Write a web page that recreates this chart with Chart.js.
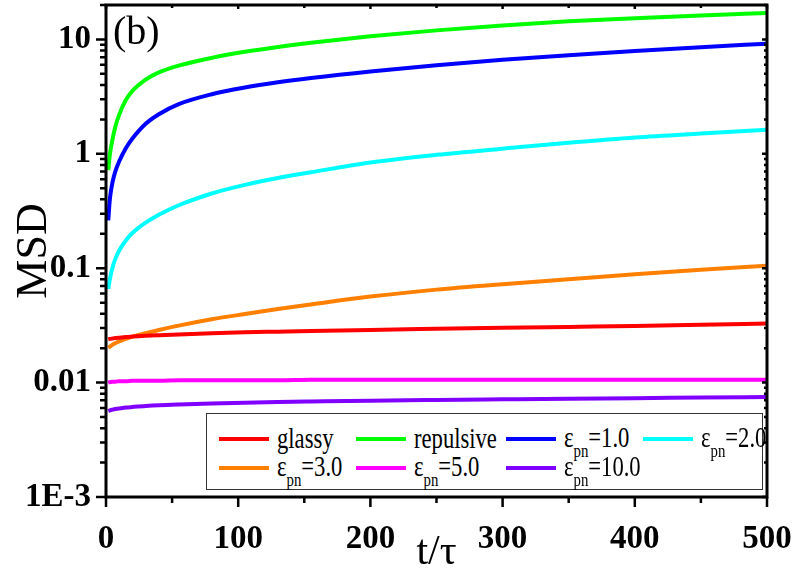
<!DOCTYPE html>
<html>
<head>
<meta charset="utf-8">
<script src="https://cdn.jsdelivr.net/npm/chart.js@4.4.0/dist/chart.umd.min.js"></script>
<style>
  body { margin: 0; background: #fff; }
  #wrap { position: relative; width: 794px; height: 579px; }
  #legend {
    position: absolute; left: 206px; top: 413px; width: 557px; height: 77px;
    box-sizing: border-box; border: 1px solid #333; background: #fff;
    display: grid; grid-template-columns: 137px 150px 137px 1fr; grid-template-rows: 29px 29px;
    padding: 10px 0 0 12px;
    font-family: "Liberation Serif"; font-size: 29px; color: #000;
  }
  .item { display: flex; align-items: center; line-height: 29px; white-space: nowrap; }
  .swatch { width: 50px; height: 4px; margin-right: 8px; flex: none; }
  .txt { display: inline-block; transform: scaleX(0.78); transform-origin: left center; }
  .txt sub { font-size: 19px; vertical-align: baseline; position: relative; top: 10px; }
</style>
</head>
<body>
<div id="wrap">
  <canvas id="chart"></canvas>
  <div id="legend"></div>
</div>
<script>
// time points (t/tau) shared by all curves
const times = [1.7, 3, 5, 7, 10, 15, 20, 30, 40, 55, 80, 105, 130, 155, 200, 250, 300, 350, 400, 450, 500];

const glassy    = [0.0239, 0.0241, 0.0243, 0.0245, 0.0247, 0.0250, 0.0253, 0.0257, 0.0260, 0.0264, 0.0270, 0.0275, 0.0279, 0.0283, 0.0289, 0.0295, 0.0301, 0.0307, 0.0313, 0.0320, 0.0328];
const repulsive = [0.72, 1.0, 1.35, 1.72, 2.2, 2.95, 3.55, 4.45, 5.15, 5.9, 6.9, 7.8, 8.6, 9.35, 10.65, 12.0, 13.25, 14.4, 15.35, 16.2, 17.0];
const eps1      = [0.262, 0.41, 0.57, 0.70, 0.86, 1.12, 1.36, 1.83, 2.22, 2.72, 3.32, 3.8, 4.22, 4.6, 5.25, 5.95, 6.63, 7.28, 7.92, 8.55, 9.18];
const eps2      = [0.066, 0.081, 0.102, 0.12, 0.143, 0.175, 0.203, 0.25, 0.293, 0.355, 0.45, 0.535, 0.615, 0.69, 0.84, 0.98, 1.11, 1.25, 1.39, 1.505, 1.62];
const eps3      = [0.0202, 0.0207, 0.0215, 0.0221, 0.0229, 0.0241, 0.0252, 0.0270, 0.0288, 0.0315, 0.0358, 0.0398, 0.0440, 0.0482, 0.0565, 0.0650, 0.0725, 0.0800, 0.0885, 0.0970, 0.1050];
const eps5      = [0.0100, 0.0101, 0.0102, 0.0102, 0.0103, 0.0103, 0.0104, 0.0104, 0.0104, 0.0105, 0.0105, 0.0105, 0.0105, 0.0106, 0.0106, 0.0106, 0.0106, 0.0106, 0.0106, 0.0106, 0.0106];
const eps10     = [0.00565, 0.00572, 0.00580, 0.00587, 0.00595, 0.00605, 0.00612, 0.00625, 0.00635, 0.00645, 0.00658, 0.00668, 0.00676, 0.00683, 0.00695, 0.00705, 0.00714, 0.00723, 0.00731, 0.00740, 0.00748];

const seriesLabels = ["glassy", "repulsive", "εpn=1.0", "εpn=2.0", "εpn=3.0", "εpn=5.0", "εpn=10.0"];

const xMajor = [0, 100, 200, 300, 400, 500];
const xMinor = [50, 150, 250, 350, 450];
const yTicks = [0.001, 0.01, 0.1, 1, 10];
const yTickLabels = ["1E-3", "0.01", "0.1", "1", "10"];
const panelTag = "(b)";

const serif = '"Liberation Serif", "Times New Roman", serif';
Chart.defaults.font.family = serif;
Chart.defaults.color = "#000";

function series(label, values, color) {
  return {
    label: label,
    data: times.map((t, i) => ({ x: t, y: values[i] })),
    borderColor: color,
    backgroundColor: color,
    borderWidth: 4,
    pointRadius: 0,
    cubicInterpolationMode: "monotone",
    fill: false
  };
}

// frame, tick marks and the panel tag
const frame = {
  id: "frame",
  afterDatasetsDraw(chart) {
    const { ctx, chartArea: a, scales: { x, y } } = chart;
    ctx.save();
    ctx.strokeStyle = "#000";
    ctx.lineWidth = 2.5;
    ctx.beginPath();
    xMajor.forEach(v => {
      const p = x.getPixelForValue(v);
      ctx.moveTo(p, a.bottom); ctx.lineTo(p, a.bottom + 10);
      ctx.moveTo(p, a.top); ctx.lineTo(p, a.top + 4);
    });
    xMinor.forEach(v => {
      const p = x.getPixelForValue(v);
      ctx.moveTo(p, a.bottom); ctx.lineTo(p, a.bottom + 6);
      ctx.moveTo(p, a.top); ctx.lineTo(p, a.top + 3);
    });
    for (let d = 0.001; d < 20; d *= 10) {
      for (let k = 1; k < 10; k++) {
        const v = d * k;
        if (v > 20) break;
        const p = y.getPixelForValue(v);
        const len = k === 1 ? 10 : 6;
        ctx.moveTo(a.left, p); ctx.lineTo(a.left - len, p);
        ctx.moveTo(a.right, p); ctx.lineTo(a.right - (k === 1 ? 5 : 3), p);
      }
    }
    ctx.stroke();
    ctx.lineWidth = 3;
    ctx.strokeRect(a.left, a.top, a.right - a.left, a.bottom - a.top);
    ctx.font = "40px " + serif;
    ctx.fillStyle = "#000";
    ctx.textBaseline = "alphabetic";
    ctx.fillText(panelTag, a.left + 7, a.top + 39);
    ctx.restore();
  }
};

const chart = new Chart(document.getElementById("chart"), {
  type: "line",
  data: {
    datasets: [
      series(seriesLabels[0], glassy, "#ff0000"),
      series(seriesLabels[1], repulsive, "#00ff00"),
      series(seriesLabels[2], eps1, "#0000ff"),
      series(seriesLabels[3], eps2, "#00ffff"),
      series(seriesLabels[4], eps3, "#ff8000"),
      series(seriesLabels[5], eps5, "#ff00ff"),
      series(seriesLabels[6], eps10, "#8000ff")
    ]
  },
  options: {
    responsive: true,
    maintainAspectRatio: false,
    animation: false,
    layout: { padding: { top: 5, right: 27, left: 0, bottom: 0 } },
    plugins: { legend: { display: false }, tooltip: { enabled: false } },
    scales: {
      x: {
        type: "linear", min: 0, max: 500,
        grid: { display: false, drawTicks: false, tickLength: 0 },
        border: { display: false },
        ticks: { stepSize: 100, maxRotation: 0, autoSkip: false, padding: 23,
                 font: { family: serif, size: 33, weight: "bold" }, color: "#000" },
        afterFit: s => { s.height = 82; s.paddingLeft = 0; s.paddingRight = 0; },
        title: { display: true, text: "t/τ", font: { family: serif, size: 42 }, color: "#000",
                 padding: { top: 0, bottom: 1 } }
      },
      y: {
        type: "logarithmic", min: 0.001, max: 20,
        grid: { display: false, drawTicks: false, tickLength: 0 },
        border: { display: false },
        afterBuildTicks: s => { s.ticks = yTicks.map(v => ({ value: v })); },
        ticks: { padding: 15, font: { family: serif, size: 33, weight: "bold" }, color: "#000",
                 callback: v => { const i = yTicks.findIndex(t => Math.abs(t - v) / t < 1e-6); return i < 0 ? "" : yTickLabels[i]; } },
        afterFit: s => { s.width = 106; s.paddingTop = 0; s.paddingBottom = 0; },
        title: { display: true, text: "MSD", font: { family: serif, size: 44 }, color: "#000",
                 padding: { top: 8, bottom: 0 } }
      }
    }
  },
  plugins: [frame]
});

// legend with subscripts
const legendBox = document.getElementById("legend");
chart.data.datasets.forEach(ds => {
  const item = document.createElement("div");
  item.className = "item";
  const sw = document.createElement("span");
  sw.className = "swatch";
  sw.style.background = ds.borderColor;
  const txt = document.createElement("span");
  txt.className = "txt";
  txt.innerHTML = ds.label.replace(/ε(pn)/, "ε<sub>$1</sub>");
  item.appendChild(sw);
  item.appendChild(txt);
  legendBox.appendChild(item);
});
</script>
</body>
</html>
